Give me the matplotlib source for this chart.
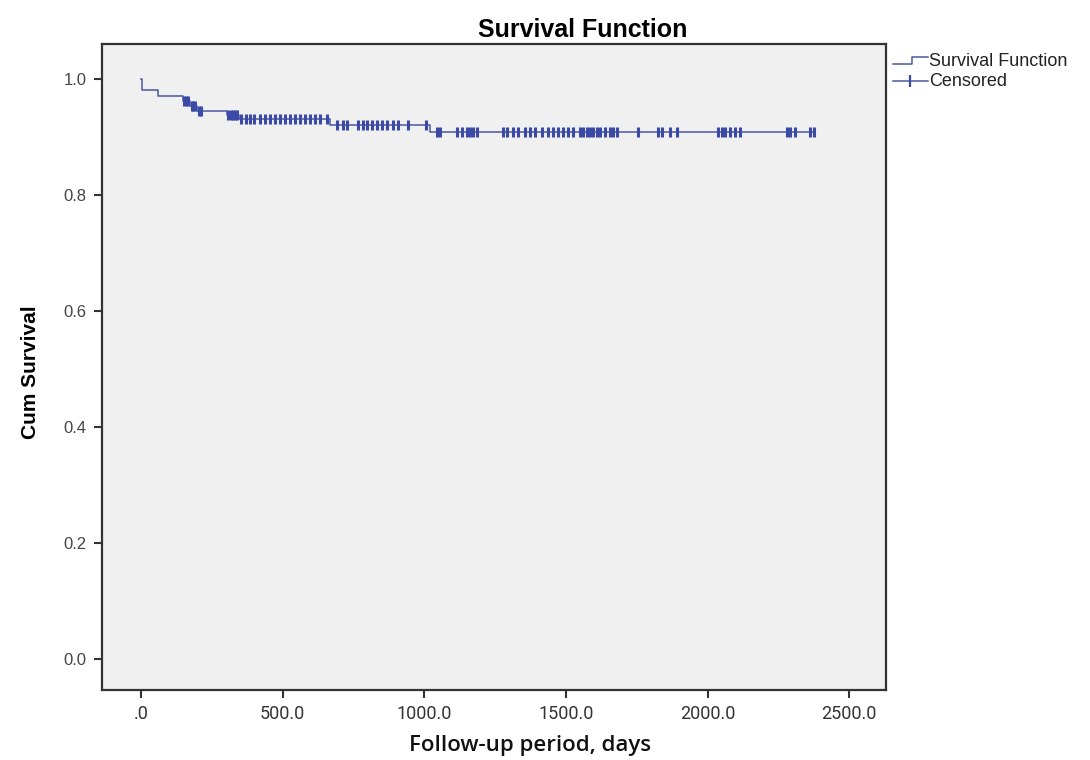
import numpy as np
import matplotlib
matplotlib.use("Agg")
import matplotlib.pyplot as plt
from matplotlib.lines import Line2D

# ---- data ----
event_times = [2, 60, 148, 172, 198, 305, 345, 667, 1020]
surv_after = [0.981, 0.971, 0.962, 0.953, 0.944, 0.937, 0.930, 0.920, 0.908]
end_time = 2375
censored_times = [
    152, 160, 166, 178, 185, 190, 203, 212,
    308, 318, 325, 333, 340, 352,
    370, 385, 400, 420, 438, 455, 472, 490, 508, 525, 543, 560, 578, 596, 614, 630, 655,
    692, 713, 727, 766, 782, 798, 815, 833, 851, 869, 890, 907, 943, 1005,
    1045, 1056, 1116, 1133, 1151, 1162, 1172, 1186, 1278, 1292, 1314, 1331, 1356,
    1374, 1391, 1416, 1437, 1455, 1472, 1490, 1508, 1525, 1550, 1561, 1575, 1585,
    1596, 1610, 1621, 1638, 1656, 1667, 1681, 1755, 1826, 1840, 1868, 1893,
    2037, 2052, 2062, 2080, 2097, 2115, 2281, 2292, 2309, 2362, 2375,
]
x_ticks = [0, 500, 1000, 1500, 2000, 2500]
x_ticklabels = [".0", "500.0", "1000.0", "1500.0", "2000.0", "2500.0"]
y_ticks = [0.0, 0.2, 0.4, 0.6, 0.8, 1.0]
y_ticklabels = ["0.0", "0.2", "0.4", "0.6", "0.8", "1.0"]

title = "Survival Function"
xlabel = "Follow-up period, days"
ylabel = "Cum Survival"
legend_labels = ["Survival Function", "Censored"]

# ---- build step function ----
step_t = np.array([0] + event_times + [end_time], dtype=float)
step_s = np.array([1.0] + surv_after + [surv_after[-1]], dtype=float)
ct = np.array(censored_times, dtype=float)
idx = np.searchsorted(np.array([0] + event_times, dtype=float), ct, side="right") - 1
cs = np.array([1.0] + surv_after)[idx]

line_col = "#4a589e"
mark_col = "#3a4aa6"

fig = plt.figure(figsize=(10.9, 7.6), dpi=100)
W, H = 1090, 760
ax = fig.add_axes([102 / W, 1 - 690 / H, (886 - 102) / W, (690 - 44) / H])
ax.set_facecolor("#f0f0f0")

ax.plot(step_t, step_s, drawstyle="steps-post", color=line_col, lw=1.1)
ax.plot(ct, cs, linestyle="none", marker="|", markersize=7, mew=2.2, color=mark_col)

ax.set_xlim(-138, 2630)
ax.set_ylim(-0.053, 1.06)
ax.set_xticks(x_ticks)
ax.set_xticklabels(x_ticklabels, family=["Liberation Sans Narrow", "Roboto", "DejaVu Sans"],
                   fontsize=13, color="#333333")
ax.set_yticks(y_ticks)
ax.set_yticklabels(y_ticklabels, family=["Liberation Sans", "DejaVu Sans"], fontsize=12, color="#444444")
ax.tick_params(axis="both", direction="out", length=6, width=1.5, color="#333333", pad=5)
for sp in ax.spines.values():
    sp.set_color("#333333")
    sp.set_linewidth(1.6)

fig.text(583 / W, 1 - 30 / H, title, ha="center", va="center", fontsize=18, fontweight="bold",
         family=["Liberation Sans", "DejaVu Sans"])
fig.text(30 / W, 1 - 372 / H, ylabel, rotation=90, ha="center", va="center", fontsize=15,
         fontweight="bold", family=["Liberation Sans Narrow", "Liberation Sans", "DejaVu Sans"])
fig.text(530 / W, 1 - 745 / H, xlabel, ha="center", va="center", fontsize=16, fontweight="semibold",
         family=["Open Sans", "DejaVu Sans"], color="#111111")

# ---- legend (outside, top right) ----
def fx(px):
    return px / W

def fy(py):
    return 1 - py / H

fig.add_artist(Line2D([fx(893), fx(912), fx(912), fx(928)], [fy(64), fy(64), fy(57), fy(57)],
                      color=line_col, lw=1.1, transform=fig.transFigure))
fig.add_artist(Line2D([fx(893), fx(928)], [fy(81), fy(81)], color=line_col, lw=1.1,
                      transform=fig.transFigure))
fig.add_artist(Line2D([fx(910)], [fy(81)], marker="|", markersize=8, mew=1.6, color=mark_col,
                      linestyle="none", transform=fig.transFigure))
fig.text(fx(929), fy(61), legend_labels[0], ha="left", va="center", fontsize=13,
         family=["Liberation Sans", "DejaVu Sans"], color="#222222")
fig.text(fx(929), fy(81), legend_labels[1], ha="left", va="center", fontsize=13,
         family=["Liberation Sans", "DejaVu Sans"], color="#222222")

fig.savefig("out.png", dpi=100, facecolor="white")
